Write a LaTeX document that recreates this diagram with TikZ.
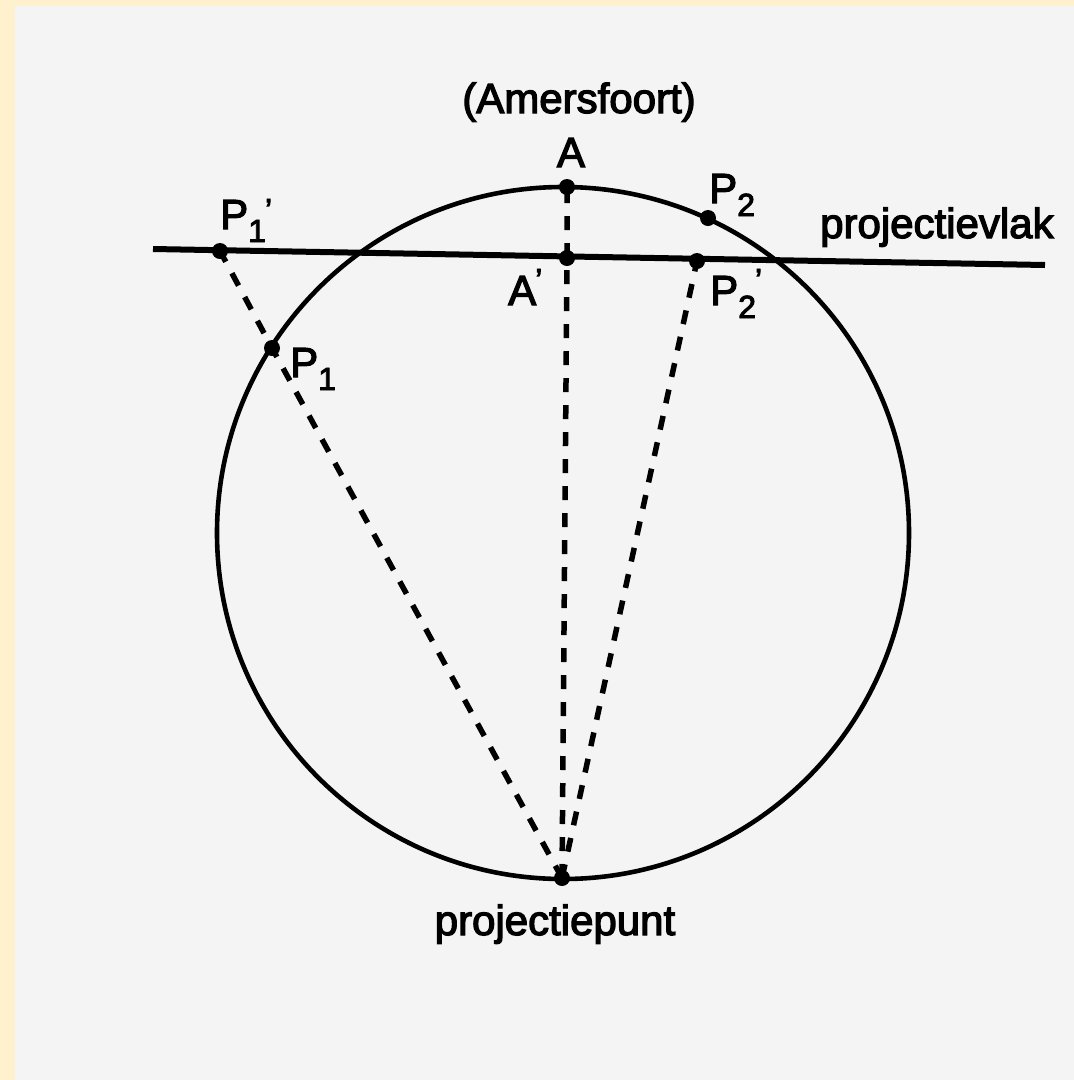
\documentclass[tikz,border=0pt]{standalone}
\usepackage{fontspec}
\setmainfont{Liberation Sans}[FakeBold=3]
\newcommand\lblsub[1]{\raisebox{-13pt}{\fontsize{32}{32}\selectfont #1}}
\newcommand\lblprm[1][10pt]{\kern-1pt\raisebox{#1}{\fontsize{32}{32}\selectfont\char"27}}
\begin{document}
\begin{tikzpicture}[x=1pt,y=-1pt,
  dot/.style={circle,fill=black,inner sep=0pt,minimum size=16pt},
  lbl/.style={inner sep=0pt,anchor=base west,font=\fontsize{42}{48}\selectfont},
  ray/.style={line width=5.5pt,dash pattern=on 14pt off 13pt},
  plane/.style={line width=6pt},
  globe/.style={line width=4.6pt}]
% background
\fill[fill={rgb,255:red,255;green,240;blue,206}] (0,0) rectangle (1074,1080);
\fill[fill={rgb,255:red,244;green,244;blue,244}] (15,6) rectangle (1074,1080);
\useasboundingbox (0,0) rectangle (1074,1080);
% globe
\coordinate (C) at (563,533);
\draw[globe] (C) circle[radius=346];
% projection plane
\coordinate (L1) at (153,249);
\coordinate (L2) at (1045,265);
\draw[plane] (L1) -- (L2);
% points
\node[dot] (A) at (567,187) {};
\node[dot] (Ap) at (567,258) {};
\node[dot] (P1) at (272,348) {};
\node[dot] (P1p) at (220,251) {};
\node[dot] (P2) at (708,218) {};
\node[dot] (P2p) at (697,261) {};
\node[dot] (O) at (562,878) {};
% rays
\draw[ray] (O.center) -- (Ap.center) -- (A.center);
\draw[ray] (O.center) -- (P1.center) -- (P1p.center);
\draw[ray] (O.center) -- (P2p.center);
% labels
\node[lbl,anchor=base] (tAm) at (579,113) {(Amersfoort)};
\node[lbl,anchor=base] (tA) at (571,167) {A};
\node[lbl] (tAp) at (508,305) {A\lblprm[14pt]};
\node[lbl] (tP1p) at (220,229) {P\lblsub{1}\lblprm[8pt]};
\node[lbl] (tP1) at (290,377) {P\lblsub{1}};
\node[lbl] (tP2) at (709,203) {P\lblsub{2}};
\node[lbl] (tP2p) at (710,305) {P\lblsub{2}\lblprm[14pt]};
\node[lbl] (tvlak) at (820,238) {projectievlak};
\node[lbl,anchor=base] (tpunt) at (555,935) {projectiepunt};
\end{tikzpicture}
\end{document}
